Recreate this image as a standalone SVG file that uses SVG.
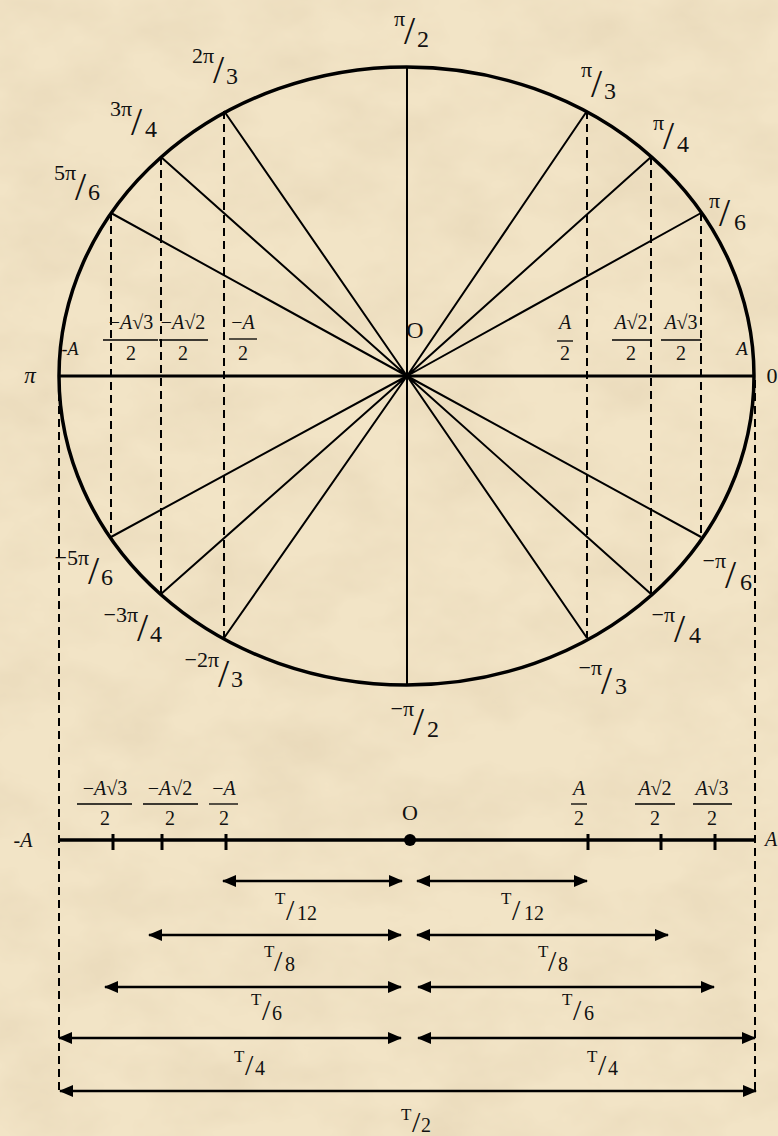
<svg xmlns="http://www.w3.org/2000/svg" width="778" height="1136" viewBox="0 0 778 1136">
<defs>
<filter id="paper" x="0" y="0" width="100%" height="100%" filterUnits="userSpaceOnUse">
<feTurbulence type="fractalNoise" baseFrequency="0.012 0.018" numOctaves="4" seed="7" result="n"/>
<feColorMatrix in="n" type="matrix" values="0 0 0 0 0.78  0 0 0 0 0.66  0 0 0 0 0.46  1.1 0 0 0 -0.38"/>
</filter>
<marker id="ah" viewBox="0 0 14 12" refX="13" refY="6" markerWidth="14" markerHeight="12" markerUnits="userSpaceOnUse" orient="auto-start-reverse">
<path d="M0,0 L14,6 L0,12 z" fill="#000"/>
</marker>
<style>
text{font-family:"Liberation Serif","DejaVu Serif",serif;fill:#111}
.num{font-size:22px}
.sl{font-size:40px}
.den{font-size:24px}
.fr{font-size:20px;text-anchor:middle}
.it{font-style:italic}
.tT{font-size:17px}
.tS{font-size:30px}
.tD{font-size:20px}
.rad{stroke:#000;stroke-width:2;fill:none}
.dash{stroke:#000;stroke-width:2;stroke-dasharray:8 5;fill:none}
.fl{stroke:#000;stroke-width:1.3}
.arr{stroke:#000;stroke-width:2.5;marker-start:url(#ah);marker-end:url(#ah)}
.tick{stroke:#000;stroke-width:3}
</style>
</defs>
<rect width="778" height="1136" fill="#f2e4c6"/>
<rect width="778" height="1136" filter="url(#paper)"/>

<g id="dashed">
<path class="dash" d="M111,213V537M161,157V594M224,111V638M587,111V638M651,157V594M701,213V537"/>
<path class="dash" d="M59,380V1092M755,380V1092"/>
</g>

<g id="radials">
<path class="rad" d="M407,376L587,111M407,376L651,157M407,376L701,213M407,376L224,111M407,376L161,157M407,376L111,213M407,376L111,537M407,376L161,594M407,376L224,638M407,376L587,638M407,376L651,594M407,376L701,537"/>
<line x1="407" y1="67" x2="407" y2="685" stroke="#000" stroke-width="2"/>
<line x1="59" y1="376" x2="755" y2="376" stroke="#000" stroke-width="3"/>
</g>

<g id="circle">
<ellipse cx="406.5" cy="376" rx="347.5" ry="309" fill="none" stroke="#000" stroke-width="3.5"/>
</g>

<g id="angle-labels">
<g id="l-pi2"><text class="num" x="405" y="26" text-anchor="end">π</text><text class="sl" x="404" y="44">/</text><text class="den" x="417" y="47">2</text></g>
<g id="l-2pi3"><text class="num" x="214" y="63" text-anchor="end">2π</text><text class="sl" x="213" y="83">/</text><text class="den" x="226" y="84">3</text></g>
<g id="l-3pi4"><text class="num" x="132" y="116" text-anchor="end">3π</text><text class="sl" x="131" y="135">/</text><text class="den" x="145" y="137">4</text></g>
<g id="l-5pi6"><text class="num" x="76" y="180" text-anchor="end">5π</text><text class="sl" x="75" y="200">/</text><text class="den" x="88" y="200">6</text></g>
<g id="l-pi3"><text class="num" x="592" y="77" text-anchor="end">π</text><text class="sl" x="591" y="97">/</text><text class="den" x="604" y="99">3</text></g>
<g id="l-pi4"><text class="num" x="664" y="130" text-anchor="end">π</text><text class="sl" x="663" y="149">/</text><text class="den" x="677" y="152">4</text></g>
<g id="l-pi6"><text class="num" x="720" y="208" text-anchor="end">π</text><text class="sl" x="719" y="226">/</text><text class="den" x="734" y="230">6</text></g>
<g id="l-m5pi6"><text class="num" x="89" y="565" text-anchor="end">−5π</text><text class="sl" x="88" y="584">/</text><text class="den" x="101" y="585">6</text></g>
<g id="l-m3pi4"><text class="num" x="138" y="622" text-anchor="end">−3π</text><text class="sl" x="137" y="641">/</text><text class="den" x="150" y="642">4</text></g>
<g id="l-m2pi3"><text class="num" x="219" y="667" text-anchor="end">−2π</text><text class="sl" x="218" y="687">/</text><text class="den" x="231" y="687">3</text></g>
<g id="l-mpi2"><text class="num" x="414" y="716" text-anchor="end">−π</text><text class="sl" x="413" y="735">/</text><text class="den" x="427" y="737">2</text></g>
<g id="l-mpi3"><text class="num" x="602" y="675" text-anchor="end">−π</text><text class="sl" x="601" y="694">/</text><text class="den" x="615" y="694">3</text></g>
<g id="l-mpi4"><text class="num" x="675" y="622" text-anchor="end">−π</text><text class="sl" x="674" y="642">/</text><text class="den" x="689" y="643">4</text></g>
<g id="l-mpi6"><text class="num" x="726" y="568" text-anchor="end">−π</text><text class="sl" x="725" y="588">/</text><text class="den" x="740" y="590">6</text></g>
<text x="30" y="383" font-size="23" text-anchor="middle" class="it">π</text>
<text x="772" y="383" font-size="22" text-anchor="middle">0</text>
<text x="415" y="338" font-size="24" text-anchor="middle">O</text>
</g>

<g id="circle-values">
<text x="70" y="355" font-size="18" text-anchor="middle" class="it">-A</text>
<g><text class="fr" x="131" y="329">−<tspan class="it">A</tspan>√3</text><line class="fl" x1="103" y1="340" x2="158" y2="340"/><text class="fr" x="131" y="360">2</text></g>
<g><text class="fr" x="183" y="329">−<tspan class="it">A</tspan>√2</text><line class="fl" x1="159" y1="340" x2="208" y2="340"/><text class="fr" x="183" y="360">2</text></g>
<g><text class="fr" x="243" y="329">−<tspan class="it">A</tspan></text><line class="fl" x1="229" y1="339" x2="257" y2="339"/><text class="fr" x="243" y="360">2</text></g>
<g><text class="fr" x="565" y="329"><tspan class="it">A</tspan></text><line class="fl" x1="557" y1="341" x2="573" y2="341"/><text class="fr" x="565" y="360">2</text></g>
<g><text class="fr" x="631" y="329"><tspan class="it">A</tspan>√2</text><line class="fl" x1="612" y1="340" x2="650" y2="340"/><text class="fr" x="631" y="360">2</text></g>
<g><text class="fr" x="681" y="329"><tspan class="it">A</tspan>√3</text><line class="fl" x1="661" y1="340" x2="701" y2="340"/><text class="fr" x="681" y="360">2</text></g>
<text x="742" y="355" font-size="19" text-anchor="middle" class="it">A</text>
</g>

<g id="axis">
<line x1="59" y1="840" x2="755" y2="840" stroke="#000" stroke-width="3.5"/>
<path class="tick" d="M113,834V850M162,834V850M226,834V850M588,834V850M661,834V850M715,834V850"/>
<circle cx="410" cy="840" r="6" fill="#000"/>
<text x="410" y="820" font-size="22" text-anchor="middle">O</text>
<text x="23" y="847" font-size="20" text-anchor="middle" class="it">-A</text>
<text x="765" y="846" font-size="20" class="it">A</text>
<g><text class="fr" x="105" y="795">−<tspan class="it">A</tspan>√3</text><line class="fl" x1="77" y1="804" x2="132" y2="804"/><text class="fr" x="105" y="825">2</text></g>
<g><text class="fr" x="170" y="795">−<tspan class="it">A</tspan>√2</text><line class="fl" x1="143" y1="804" x2="198" y2="804"/><text class="fr" x="170" y="825">2</text></g>
<g><text class="fr" x="224" y="795">−<tspan class="it">A</tspan></text><line class="fl" x1="209" y1="804" x2="238" y2="804"/><text class="fr" x="224" y="825">2</text></g>
<g><text class="fr" x="579" y="795"><tspan class="it">A</tspan></text><line class="fl" x1="571" y1="804" x2="587" y2="804"/><text class="fr" x="579" y="825">2</text></g>
<g><text class="fr" x="655" y="795"><tspan class="it">A</tspan>√2</text><line class="fl" x1="635" y1="804" x2="675" y2="804"/><text class="fr" x="655" y="825">2</text></g>
<g><text class="fr" x="712" y="795"><tspan class="it">A</tspan>√3</text><line class="fl" x1="693" y1="804" x2="732" y2="804"/><text class="fr" x="712" y="825">2</text></g>
</g>

<g id="connectors">
<line class="arr" x1="223" y1="881" x2="402" y2="881"/>
<line class="arr" x1="417" y1="881" x2="587" y2="881"/>
<line class="arr" x1="149" y1="935" x2="401" y2="935"/>
<line class="arr" x1="417" y1="935" x2="668" y2="935"/>
<line class="arr" x1="105" y1="987" x2="401" y2="987"/>
<line class="arr" x1="418" y1="987" x2="714" y2="987"/>
<line class="arr" x1="59" y1="1038" x2="401" y2="1038"/>
<line class="arr" x1="418" y1="1038" x2="755" y2="1038"/>
<line class="arr" x1="60" y1="1091" x2="756" y2="1091"/>
</g>

<g id="period-labels">
<g><text class="tT" x="275" y="904">T</text><text class="tS" x="286" y="920">/</text><text class="tD" x="297" y="920">12</text></g>
<g><text class="tT" x="501" y="904">T</text><text class="tS" x="512" y="920">/</text><text class="tD" x="524" y="920">12</text></g>
<g><text class="tT" x="264" y="957">T</text><text class="tS" x="274" y="971">/</text><text class="tD" x="285" y="971">8</text></g>
<g><text class="tT" x="538" y="957">T</text><text class="tS" x="548" y="971">/</text><text class="tD" x="558" y="971">8</text></g>
<g><text class="tT" x="251" y="1005">T</text><text class="tS" x="262" y="1020">/</text><text class="tD" x="272" y="1020">6</text></g>
<g><text class="tT" x="562" y="1005">T</text><text class="tS" x="573" y="1020">/</text><text class="tD" x="584" y="1020">6</text></g>
<g><text class="tT" x="234" y="1062">T</text><text class="tS" x="245" y="1075">/</text><text class="tD" x="255" y="1075">4</text></g>
<g><text class="tT" x="587" y="1062">T</text><text class="tS" x="598" y="1075">/</text><text class="tD" x="608" y="1075">4</text></g>
<g><text class="tT" x="401" y="1120">T</text><text class="tS" x="412" y="1132">/</text><text class="tD" x="421" y="1132">2</text></g>
</g>
</svg>
